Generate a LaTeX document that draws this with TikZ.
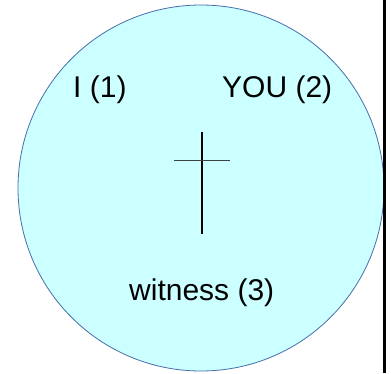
\documentclass[tikz,border=0pt]{standalone}
\usepackage{fontspec}
\setmainfont{Liberation Sans}
\definecolor{discfill}{RGB}{204,255,255}
\definecolor{discline}{RGB}{70,110,170}

\begin{document}
\begin{tikzpicture}[x=1pt,y=-1pt,
    lbl/.style={anchor=base west,inner sep=0pt,font=\fontsize{30}{35}\selectfont}]
  \useasboundingbox (0,0) rectangle (391,373);
  \begin{scope}
    \clip (0,0) rectangle (384,373);
    \draw[discline,fill=discfill,line width=0.8pt] (201,188) circle[radius=183];
  \end{scope}
  \fill (383,0) rectangle (386,373);
  % the cross
  \draw[line width=1.3pt] (202,132) -- (202,234);
  \draw[line width=1pt,black!75] (174,160) -- (230,160);
  \node[lbl] (i) at (73,97) {I (1)};
  \node[lbl] (you) at (222,97) {YOU (2)};
  \node[lbl] (witness) at (129,300) {witness (3)};
\end{tikzpicture}
\end{document}
